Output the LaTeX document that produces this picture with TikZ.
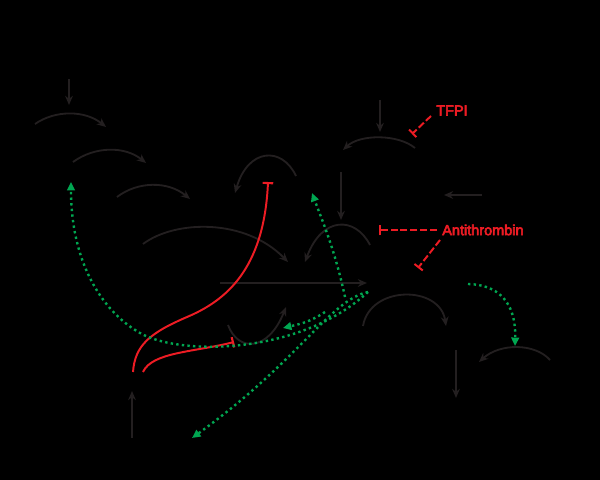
\documentclass[tikz,border=0pt]{standalone}
\usepackage{fontspec}
\newfontfamily\labelfont{Liberation Sans}[FakeBold=4]
\usetikzlibrary{arrows.meta}

\definecolor{cascade}{RGB}{35,31,32}
\definecolor{inhib}{RGB}{237,28,36}
\definecolor{feedback}{RGB}{0,166,81}

\tikzset{
    act/.style={cascade, line width=1.3pt, -{Stealth[length=6.5pt,width=5.5pt]}},
    block/.style={inhib, line width=1.4pt, dash pattern=on 5pt off 2pt, -{Bar[width=7.5pt,line width=1.4pt]}},
    blockcurve/.style={inhib, line width=1.4pt, -{Bar[width=7.5pt,line width=1.5pt]}},
    loopback/.style={feedback, line width=1.7pt, dash pattern=on 1.7pt off 2.3pt, -{Triangle[length=6pt,width=5.5pt]}},
    inhiblabel/.style={inhib, font=\labelfont\fontsize{10.3}{12}\selectfont, inner sep=0pt, anchor=west}
}

\begin{document}
\begin{tikzpicture}[x=0.025cm, y=-0.025cm]
    % Background
    \fill[black] (0,0) rectangle (600,480);

    % Contact pathway
    \coordinate (xiiTop) at (69,79);   \coordinate (xiiIn) at (69,105);
    \coordinate (xiiA) at (35,124);    \coordinate (xiiB) at (106,127);
    \coordinate (xiA) at (73,162);     \coordinate (xiB) at (146,163);
    \coordinate (ixA) at (117,197);    \coordinate (ixB) at (190,199);
    \coordinate (xA) at (143,244);     \coordinate (xB) at (288,262);
    \draw[act] (xiiTop) -- (xiiIn);
    \draw[act] (xiiA) .. controls (55,110) and (85,110) .. (xiiB);
    \draw[act] (xiA) .. controls (95,146) and (125,146) .. (xiB);
    \draw[act] (ixA) .. controls (138,181) and (168,181) .. (ixB);
    \draw[act] (xA) .. controls (175,220) and (245,218) .. (xB);

    % Tissue factor pathway
    \coordinate (tfTop) at (380,100);  \coordinate (tfIn) at (380,132);
    \coordinate (viiA) at (415,148);   \coordinate (viiB) at (343,150);
    \coordinate (viiaTop) at (341,172); \coordinate (viiaIn) at (341,220);
    \coordinate (xxA) at (370,245);    \coordinate (xxB) at (305,262);
    \coordinate (vA) at (296,176);     \coordinate (vB) at (235,193);
    \coordinate (caRight) at (482,195); \coordinate (caLeft) at (444,195);
    \draw[act] (tfTop) -- (tfIn);
    \draw[act] (viiA) .. controls (398,134) and (360,134) .. (viiB);
    \draw[act] (viiaTop) -- (viiaIn);
    \draw[act] (xxA) .. controls (355,216) and (322,216) .. (xxB);
    \draw[act] (vA) .. controls (282,146) and (248,148) .. (vB);
    \draw[act] (caRight) -- (caLeft);

    % Common pathway
    \coordinate (iiA) at (220,283);    \coordinate (iiB) at (367,283);
    \coordinate (fibA) at (363,326);   \coordinate (fibB) at (446,326);
    \coordinate (clotTop) at (456,350); \coordinate (clotIn) at (456,398);
    \coordinate (xiiiA) at (550,360);  \coordinate (xiiiB) at (479,362);
    \coordinate (pcBot) at (132,438);  \coordinate (pcTop) at (132,391);
    \coordinate (viiiA) at (228,325);  \coordinate (viiiB) at (286,307);
    \draw[act] (iiA) -- (iiB);
    \draw[act] (fibA) .. controls (370,285) and (440,285) .. (fibB);
    \draw[act] (clotTop) -- (clotIn);
    \draw[act] (xiiiA) .. controls (535,343) and (500,343) .. (xiiiB);
    \draw[act] (pcBot) -- (pcTop);
    \draw[act] (viiiA) .. controls (238,352) and (268,352) .. (viiiB);

    % Inhibitors
    \node[inhiblabel] (tfpi) at (436,110.5) {TFPI};
    \node[inhiblabel] (antithrombin) at (442,230) {Antithrombin};
    \coordinate (tfpiFrom) at (431,116); \coordinate (tfpiTo) at (412,134);
    \coordinate (atFrom) at (437,230);   \coordinate (atTo) at (379,230);
    \coordinate (atFromB) at (440,240);  \coordinate (atToB) at (418,268);
    \draw[block] (tfpiFrom) -- (tfpiTo);
    \draw[block] (atFrom) -- (atTo);
    \draw[block] (atFromB) -- (atToB);

    % Protein C
    \coordinate (apcA) at (133,372);   \coordinate (apcMid) at (187,317);
    \coordinate (apcV) at (268,182);
    \coordinate (apcB) at (143,372);   \coordinate (apcViii) at (234,342);
    \draw[blockcurve] (apcA) .. controls (135,345) and (150,333) .. (apcMid)
        .. controls (225,301) and (264,270) .. (apcV);
    \draw[blockcurve] (apcB) .. controls (152,352) and (195,352) .. (apcViii);

    % Thrombin feedback
    \coordinate (thr) at (368,292);    \coordinate (thrV) at (345,297);
    \coordinate (thrVIII) at (325,312);
    \coordinate (toXI) at (71,182);    \coordinate (xiBend) at (140,333);
    \coordinate (toV) at (312,193);    \coordinate (toVIII) at (283,328);
    \coordinate (toPC) at (192,438);
    \coordinate (thrXiii) at (468,284); \coordinate (toXIII) at (515,346);
    \draw[loopback] (thr) .. controls (300,355) and (180,356) .. (xiBend)
        .. controls (100,310) and (71,260) .. (toXI);
    \draw[loopback] (thrV) .. controls (335,250) and (322,220) .. (toV);
    \draw[loopback] (thrVIII) .. controls (310,322) and (300,324) .. (toVIII);
    \draw[loopback] (thr) .. controls (330,300) and (300,360) .. (toPC);
    \draw[loopback] (thrXiii) .. controls (505,285) and (516,310) .. (toXIII);
\end{tikzpicture}
\end{document}
